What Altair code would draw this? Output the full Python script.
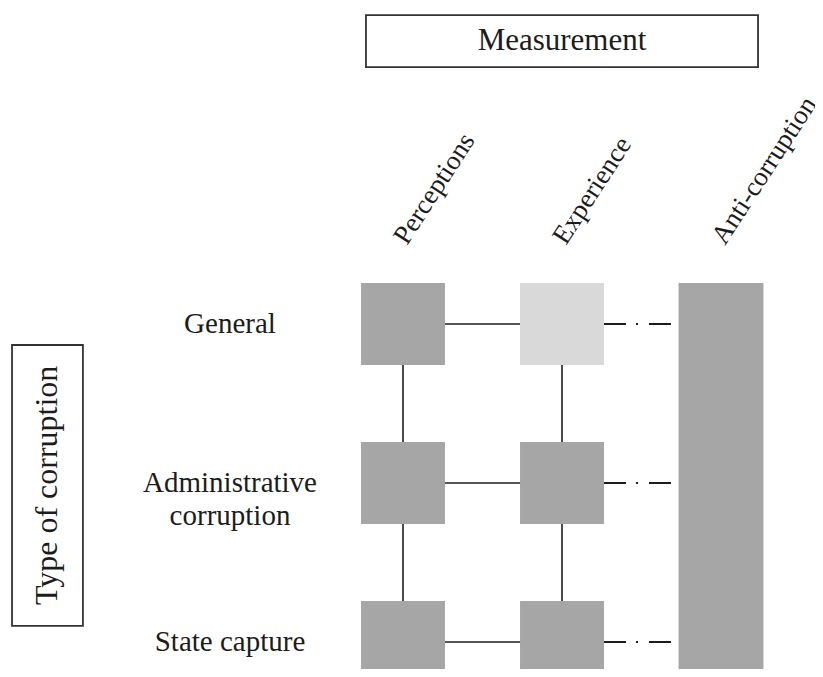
import altair as alt
import pandas as pd

# ---- content -------------------------------------------------------------
measures = ["Perceptions", "Experience", "Anti-corruption"]
corruption_types = ["General", "Administrative\ncorruption", "State capture"]
# shade of each grid cell (rows = corruption types, cols = Perceptions, Experience)
cell_shade = [["dark", "light"], ["dark", "dark"], ["dark", "dark"]]
header_title = "Measurement"
side_title = "Type of corruption"

# ---- layout constants ----------------------------------------------------
W, H = 807, 661          # drawing area (px)
UNIT = 159               # grid spacing (px)
X0, Y0 = 395, 316        # pixel position of first column / first row
HW, HH = 0.264, 0.258    # half size of a cell, in grid units
BAR_HW = 0.267
FONT = "Liberation Serif"
INK = "#1c1c1c"

xs = alt.Scale(domain=[-X0 / UNIT, (W - X0) / UNIT], nice=False, zero=False)
ys = alt.Scale(domain=[-Y0 / UNIT, (H - Y0) / UNIT], reverse=True, nice=False, zero=False)


def X(f):
    return alt.X(f, type="quantitative", scale=xs, axis=None)


def Y(f):
    return alt.Y(f, type="quantitative", scale=ys, axis=None)


# ---- tables built from the arrays ---------------------------------------
cells = pd.DataFrame([
    {"measure": measures[c], "type": corruption_types[r], "shade": cell_shade[r][c],
     "x": c - HW, "x2": c + HW, "y": r - HH, "y2": r + HH}
    for r in range(len(corruption_types)) for c in range(2)
])
bar = pd.DataFrame([{"measure": measures[2], "x": 2 - BAR_HW, "x2": 2 + BAR_HW,
                     "y": 0 - HH, "y2": len(corruption_types) - 1 + HH}])
hlines = pd.DataFrame([{"x": 0, "x2": 1, "y": r} for r in range(len(corruption_types))])
vlines = pd.DataFrame([{"x": c, "y": 0, "y2": len(corruption_types) - 1} for c in range(2)])
dlines = pd.DataFrame([{"x": 1 + HW, "x2": 2 - BAR_HW, "y": r} for r in range(len(corruption_types))])
row_labels = pd.DataFrame([{"label": t, "x": -1.088, "y": r} for r, t in enumerate(corruption_types)])
col_labels = pd.DataFrame([{"label": m, "x": c + 0.025, "y": -0.49} for c, m in enumerate(measures)])
head_box = pd.DataFrame([{"label": header_title, "x": -0.233, "x2": 2.233, "y": -1.943, "y2": -1.616,
                          "xc": 1.0, "yc": -1.78}])
side_box = pd.DataFrame([{"label": side_title, "x": -2.459, "x2": -2.013, "y": 0.132, "y2": 1.899,
                          "xc": -2.236, "yc": 1.015}])

# ---- layers --------------------------------------------------------------
v_rules = alt.Chart(vlines).mark_rule(color=INK, strokeWidth=1.6).encode(x=X("x"), y=Y("y"), y2="y2")
h_rules = alt.Chart(hlines).mark_rule(color=INK, strokeWidth=1.6).encode(x=X("x"), x2="x2", y=Y("y"))
d_rules = alt.Chart(dlines).mark_rule(color=INK, strokeWidth=1.8, strokeDash=[22, 10, 2, 11, 22, 30]).encode(
    x=X("x"), x2="x2", y=Y("y"))

cell_rects = alt.Chart(cells).mark_rect().encode(
    x=X("x"), x2="x2", y=Y("y"), y2="y2",
    color=alt.Color("shade:N", scale=alt.Scale(domain=["dark", "light"], range=["#a6a6a6", "#d9d9d9"]),
                    legend=None),
)
bar_rect = alt.Chart(bar).mark_rect(color="#a6a6a6").encode(x=X("x"), x2="x2", y=Y("y"), y2="y2")

row_text = alt.Chart(row_labels).mark_text(
    font=FONT, fontSize=29, color=INK, align="center", baseline="middle", lineBreak="\n", lineHeight=33
).encode(x=X("x"), y=Y("y"), text="label:N")

col_text = alt.Chart(col_labels).mark_text(
    font=FONT, fontSize=27, color=INK, align="left", baseline="alphabetic", angle=303
).encode(x=X("x"), y=Y("y"), text="label:N")

head_rect = alt.Chart(head_box).mark_rect(fillOpacity=0, stroke="#333333", strokeWidth=1.8).encode(
    x=X("x"), x2="x2", y=Y("y"), y2="y2")
head_text = alt.Chart(head_box).mark_text(
    font=FONT, fontSize=31, color=INK, align="center", baseline="middle").encode(
    x=X("xc"), y=Y("yc"), text="label:N")

side_rect = alt.Chart(side_box).mark_rect(fillOpacity=0, stroke="#333333", strokeWidth=1.8).encode(
    x=X("x"), x2="x2", y=Y("y"), y2="y2")
side_text = alt.Chart(side_box).mark_text(
    font=FONT, fontSize=32, color=INK, align="center", baseline="middle", angle=270).encode(
    x=X("xc"), y=Y("yc"), text="label:N")

chart = alt.layer(
    v_rules, h_rules, d_rules, cell_rects, bar_rect,
    row_text, col_text, head_rect, head_text, side_rect, side_text,
).properties(
    width=W, height=H, padding=0, autosize=alt.AutoSizeParams(type="none"),
).configure_view(stroke=None)

chart.save("out.html", embed_options={"renderer": "svg", "actions": False})
